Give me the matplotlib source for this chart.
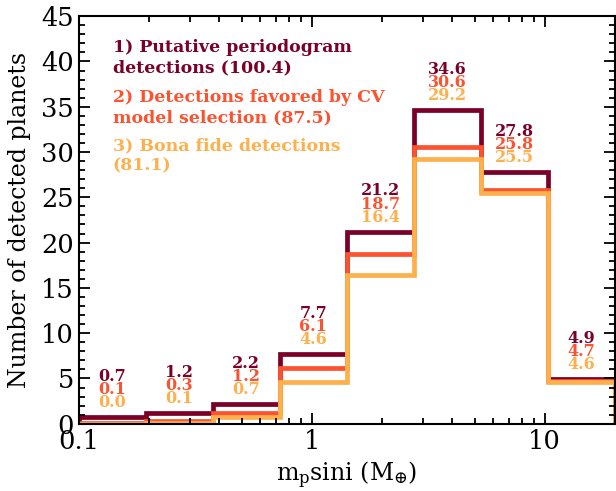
import matplotlib
matplotlib.use('Agg')
import matplotlib.pyplot as plt
import numpy as np
from matplotlib.ticker import FixedLocator, FixedFormatter, MultipleLocator

plt.rcParams['font.family'] = 'DejaVu Serif'
plt.rcParams['mathtext.fontset'] = 'dejavuserif'

# bin edges in m_p sin i (Earth masses)
edges = np.logspace(-1, np.log10(20), 9)
putative = [0.7, 1.2, 2.2, 7.7, 21.2, 34.6, 27.8, 4.9]
favored = [0.1, 0.3, 1.2, 6.1, 18.7, 30.6, 25.8, 4.7]
bona_fide = [0.0, 0.1, 0.7, 4.6, 16.4, 29.2, 25.5, 4.6]
labels = ['1) Putative periodogram\ndetections (100.4)',
          '2) Detections favored by CV\nmodel selection (87.5)',
          '3) Bona fide detections\n(81.1)']
colors = ['#7a0027', '#fc5230', '#feb04c']

fig = plt.figure(figsize=(6.16, 4.91), dpi=100)
ax = fig.add_axes([0.128, 0.137, 0.87, 0.83])

series = [putative, favored, bona_fide]
for vals, c in zip(series, colors):
    ax.stairs(vals, edges, color=c, lw=3.4, baseline=0)

centers = np.sqrt(edges[:-1] * edges[1:])
for i, xc in enumerate(centers):
    top = max(putative[i], favored[i], bona_fide[i])
    for k, (vals, c) in enumerate(zip(series[::-1], colors[::-1])):
        ax.text(xc, top + 1.6 + 1.45 * k, '%.1f' % vals[i], color=c,
                ha='center', va='center', fontsize=11.5, fontweight='bold')

ys = [0.898, 0.776, 0.658]
for lab, c, y in zip(labels, colors, ys):
    ax.text(0.063, y, lab, transform=ax.transAxes, color=c, fontsize=12.5,
            fontweight='bold', va='center', ha='left', linespacing=1.22)

ax.set_xscale('log')
ax.set_xlim(0.1, 20)
ax.set_ylim(0, 45)
ax.xaxis.set_major_locator(FixedLocator([0.1, 1, 10]))
ax.xaxis.set_major_formatter(FixedFormatter(['0.1', '1', '10']))
ax.yaxis.set_major_locator(MultipleLocator(5))
ax.yaxis.set_minor_locator(MultipleLocator(1))
ax.tick_params(which='both', direction='in', top=True, right=True, labelsize=18.5, width=1.3)
ax.tick_params(which='major', length=8)
ax.tick_params(which='minor', length=4)
for s in ax.spines.values():
    s.set_linewidth(1.5)

ax.set_xlabel(r'$\mathrm{m_{p}sini\ (M_{\oplus})}$', fontsize=17)
ax.set_ylabel('Number of detected planets', fontsize=17)
ax.yaxis.set_label_coords(-0.09, 0.5)

plt.savefig('out.png', dpi=100)
